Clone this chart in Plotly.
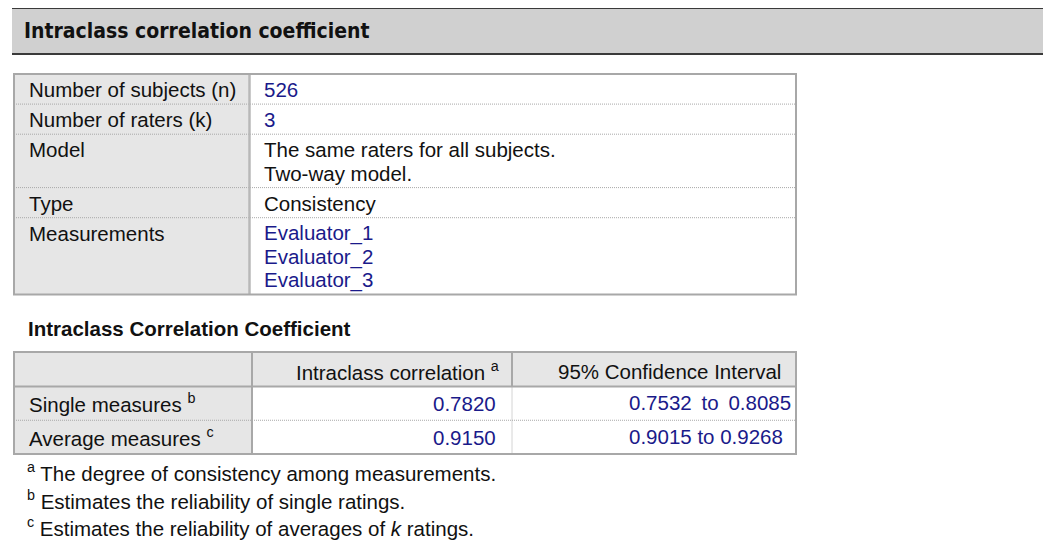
import plotly.graph_objects as go

# ---------------- data ----------------
page_title = "Intraclass correlation coefficient"
info_labels = ["Number of subjects (n)", "Number of raters (k)", "Model", "Type", "Measurements"]
info_values = [
    ["526"],
    ["3"],
    ["The same raters for all subjects.", "Two-way model."],
    ["Consistency"],
    ["Evaluator_1", "Evaluator_2", "Evaluator_3"],
]
info_value_blue = [True, True, False, False, True]

section_title = "Intraclass Correlation Coefficient"
col_headers = ["", "Intraclass correlation <sup>a</sup>", "95% Confidence Interval"]
icc_rows = ["Single measures", "Average measures"]
icc_row_notes = ["b", "c"]
icc_values = ["0.7820", "0.9150"]
ci_text = ["0.7532\u2009 to \u20090.8085", "0.9015 to 0.9268"]
footnote_keys = ["a", "b", "c"]
footnotes = [
    "The degree of consistency among measurements.",
    "Estimates the reliability of single ratings.",
    "Estimates the reliability of averages of <i>k</i> ratings.",
]

# ---------------- style ----------------
W, H = 1051, 541
OFF = 8  # default page body margin
FONT = "Liberation Sans, Arial, sans-serif"
NARROW = "Liberation Sans Narrow, Arial Narrow, DejaVu Sans Condensed, sans-serif"
BLUE = "#1a1a8a"
BLACK = "#111111"
LABEL_BG = "#e6e6e6"
BORDER = "#a8a8a8"
DOT = "#a8a8a8"
FS = 20.5

shapes = []
ann = []


def rect(x0, y0, x1, y1, fill=None, line=None, lw=0):
    shapes.append(dict(type="rect", xref="x", yref="y", x0=x0, y0=y0, x1=x1, y1=y1,
                       fillcolor=fill or "rgba(0,0,0,0)",
                       line=dict(color=line or "rgba(0,0,0,0)", width=lw), layer="below"))


def line(x0, y0, x1, y1, color, width=1, dash="solid"):
    shapes.append(dict(type="line", xref="x", yref="y", x0=x0, y0=y0, x1=x1, y1=y1,
                       line=dict(color=color, width=width, dash=dash), layer="below"))


def text(x, y, s, color=BLACK, size=FS, anchor="left", family=FONT):
    ann.append(dict(x=x, y=y, xref="x", yref="y", text=s, showarrow=False,
                    xanchor=anchor, yanchor="middle", align=anchor,
                    font=dict(family=family, size=size, color=color)))


DOTDASH = "1px,1px"

# ---- page title bar ----
rect(12, 8, 1046, 54, fill="#d0d0d0")
line(12, 8, 1046, 8, "#3a3a3a", 2)
line(12, 54, 1046, 54, "#3a3a3a", 2)
text(22, 31, "<b>" + page_title + "</b>", size=21, family=NARROW)

# ---- info table ----
tx0, tx1, tcol = 14, 796, 249.5
row_h = 23.3
row_pad = 3.4
bounds = [74]
for vals in info_values:
    h = 2 * row_pad + row_h * len(vals)
    bounds.append(bounds[-1] + h)
rect(tx0, bounds[0], tcol, bounds[-1], fill=LABEL_BG)
for b in bounds[1:-1]:
    line(tx0, b, tx1, b, DOT, 1, DOTDASH)
line(tcol, bounds[0], tcol, bounds[-1], "#b8b8b8", 2.5)
rect(tx0, bounds[0], tx1, bounds[-1], line=BORDER, lw=2)
for i, (lab, vals) in enumerate(zip(info_labels, info_values)):
    top = bounds[i] + row_pad
    text(27, top + row_h / 2 + 0.5, lab)
    for j, v in enumerate(vals):
        text(262, top + row_h * (j + 0.5) + 0.5, v, color=BLUE if info_value_blue[i] else BLACK)

# ---- ICC table ----
text(26, 328, "<b>" + section_title + "</b>", size=20.5)
ty0, thead, ty1 = 352, 386.5, 454
cx = [14, 252, 512, 796]
body_h = (ty1 - thead) / len(icc_rows)
rect(cx[0], ty0, cx[3], thead, fill=LABEL_BG)
rect(cx[0], thead, cx[1], ty1, fill=LABEL_BG)
for r in range(1, len(icc_rows)):
    line(cx[0], thead + body_h * r, cx[3], thead + body_h * r, DOT, 1, DOTDASH)
line(cx[2], thead, cx[2], ty1, DOT, 1, DOTDASH)
line(cx[2], ty0, cx[2], thead, BORDER, 2)
line(cx[1], ty0, cx[1], ty1, BORDER, 2)
line(cx[0], thead, cx[3], thead, BORDER, 2)
rect(cx[0], ty0, cx[3], ty1, line=BORDER, lw=2)

text(501, 371, col_headers[1], anchor="right")
text(783, 371, col_headers[2], anchor="right")
for r, (name, note, v, ci) in enumerate(zip(icc_rows, icc_row_notes, icc_values, ci_text)):
    yc = thead + body_h * (r + 0.5)
    text(27, yc, name + " <sup>" + note + "</sup>")
    text(498, yc, v, color=BLUE, anchor="right")
    text(627, yc - 1, ci, color=BLUE, anchor="left")

# ---- footnotes ----
for i, (k, f) in enumerate(zip(footnote_keys, footnotes)):
    text(25, 472 + 27.5 * i, "<sup>" + k + "</sup> " + f)

fig = go.Figure()
fig.update_layout(
    width=W - OFF, height=H - OFF,
    margin=dict(l=0, r=0, t=0, b=0),
    paper_bgcolor="white", plot_bgcolor="white",
    xaxis=dict(range=[OFF, W], visible=False, fixedrange=True),
    yaxis=dict(range=[H, OFF], visible=False, fixedrange=True),
    shapes=shapes, annotations=ann, showlegend=False,
)
fig.write_html("out.html")
